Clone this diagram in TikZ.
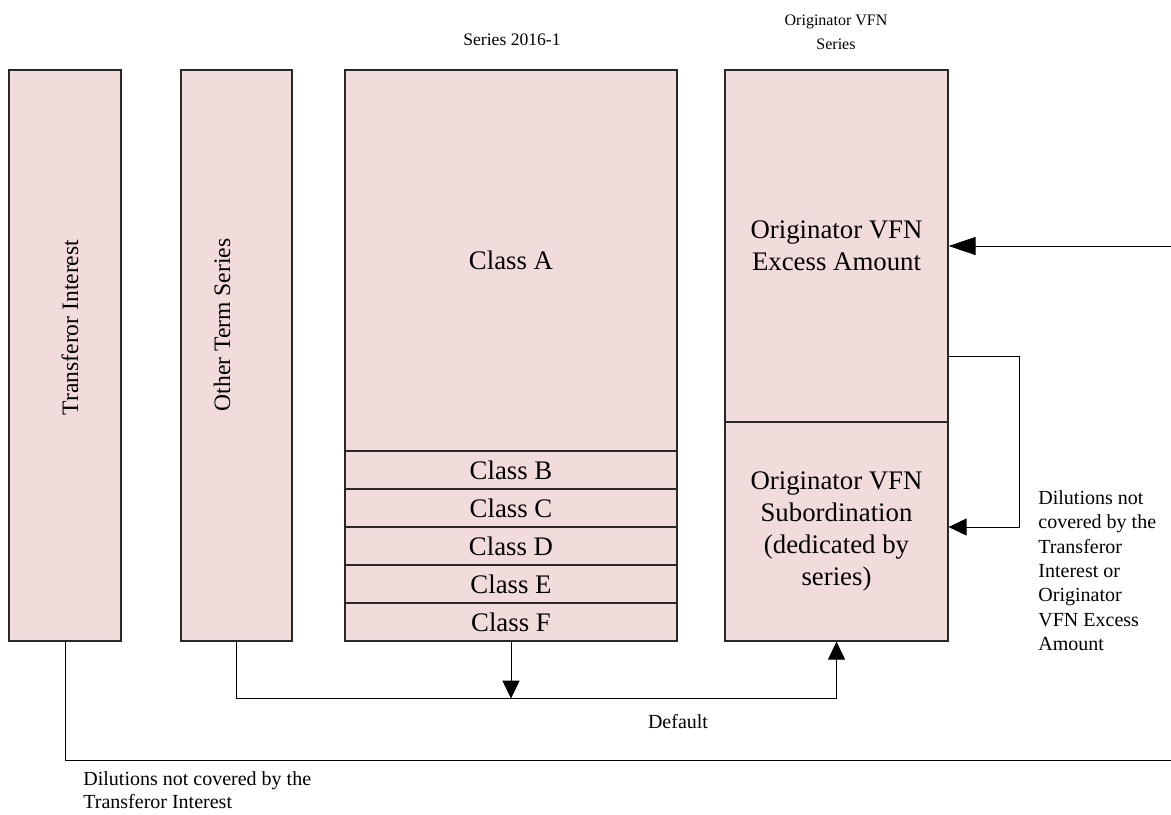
\documentclass[tikz,border=0pt]{standalone}
\usepackage{fontspec}
\setmainfont{Liberation Serif}
\usepackage{tikz}
\usetikzlibrary{arrows.meta,positioning}
\definecolor{boxfill}{RGB}{242,220,219}
\definecolor{boxline}{RGB}{40,40,40}

\tikzset{
  colbox/.style={draw=boxline, fill=boxfill, line width=0.6pt, inner sep=0pt, align=center,
    font=\fontsize{13.4}{16}\selectfont},
  sidelbl/.style={rotate=90, font=\fontsize{11.8}{14}\selectfont},
  note/.style={inner sep=0pt, align=left, font=\fontsize{10}{12.2}\selectfont},
  conn/.style={draw=black, line width=0.5pt},
  tip/.style={-{Triangle[length=9pt,width=8.5pt]}},
  bigtip/.style={-{Triangle[length=13.5pt,width=9pt]}}
}

\begin{document}
\begin{tikzpicture}[x=0.5pt, y=-0.5pt]
  \useasboundingbox (0,0) rectangle (1171,814);

  % columns
  \node[colbox, minimum width=56pt, minimum height=285.5pt] (tr) at (65,355.5) {};
  \node[sidelbl] (trlbl) at (70,327.5) {Transferor Interest};
  \node[colbox, minimum width=55.5pt, minimum height=285.5pt] (ots) at (236.5,355.5) {};
  \node[sidelbl] (otslbl) at (222,325) {Other Term Series};

  % series 2016-1
  \node[colbox, minimum width=166pt, minimum height=190.5pt] (clsA) at (511,260.5) {Class A};
  \foreach \cls [count=\i] in {B,C,D,E,F}
    \node[colbox, minimum width=166pt, minimum height=19pt] (cls\cls) at (511,{451+38*\i-19}) {Class \cls};
  \node[font=\fontsize{8.8}{11}\selectfont] (serlbl) at (512,40) {Series 2016-1};

  % originator VFN series
  \node[colbox, minimum width=111.5pt, minimum height=176pt] (exc) at (836.5,246)
    {Originator VFN\\Excess Amount};
  \node[colbox, minimum width=111.5pt, minimum height=109.5pt] (sub) at (836.5,531.5)
    {Originator VFN\\Subordination\\(dedicated by\\series)};
  \node[align=center, font=\fontsize{8}{12}\selectfont] (vfnlbl) at (836,32) {Originator VFN\\Series};

  % flows
  \coordinate (rbot) at (1171,760);
  \coordinate (rtop) at (1171,246);
  \draw[conn] (tr.south) |- (rbot);
  \draw[conn, bigtip] (rtop) -- (exc.east);
  \draw[conn, tip] ([yshift=-55pt]exc.east) -- ++(71,0) |- ([yshift=2.25pt]sub.east);
  \draw[conn, tip] (ots.south) -- ++(0,57) -| (sub.south);
  \draw[conn, tip] (clsF.south) -- ++(0,57);

  % notes
  \node[font=\fontsize{10}{12}\selectfont] (dflt) at (678,722) {Default};
  \node[note, anchor=north west] (dilr) at (1038,490)
    {Dilutions not\\covered by the\\Transferor\\Interest or\\Originator\\VFN Excess\\Amount};
  \node[note, anchor=north west, font=\fontsize{10}{11.5}\selectfont] (dilb) at (83,771)
    {Dilutions not covered by the\\Transferor Interest};
\end{tikzpicture}
\end{document}
